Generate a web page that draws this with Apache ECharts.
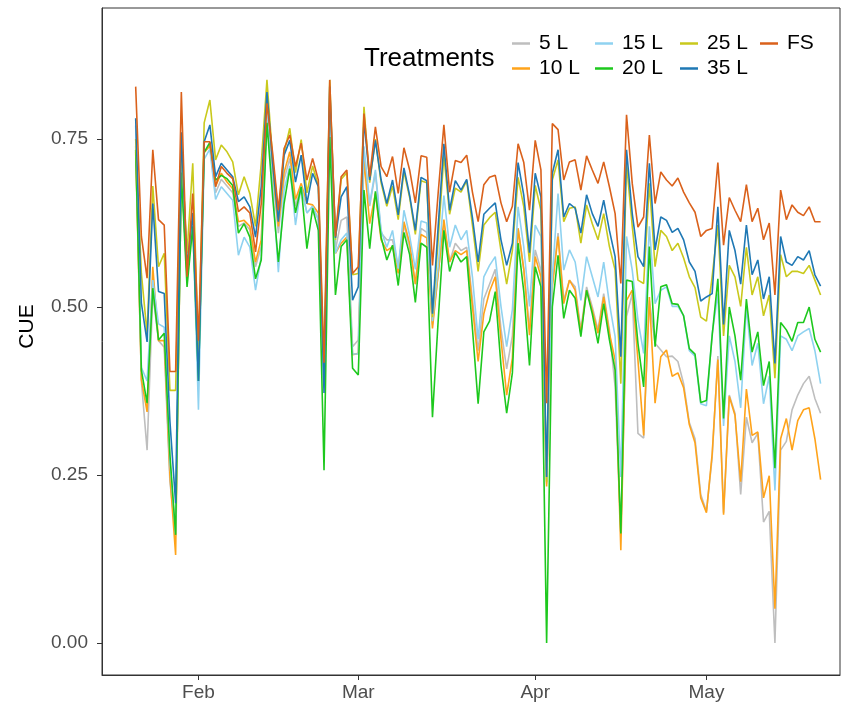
<!DOCTYPE html>
<html>
<head>
<meta charset="utf-8">
<script src="https://cdn.jsdelivr.net/npm/echarts@6/dist/echarts.min.js"></script>
<style>
html,body{margin:0;padding:0;background:#fff;}
#c{width:845px;height:710px;}
</style>
</head>
<body>
<div id="c"></div>
<script>
// ---- data (daily, first date 2017-01-21) ----
const firstDate = '2017-01-21';
const seriesNames = ['5 L', '10 L', '15 L', '20 L', '25 L', '35 L', 'FS'];
const monthTicks = ['2017-02-01', '2017-03-01', '2017-04-01', '2017-05-01'];
const monthLabels = ['Feb', 'Mar', 'Apr', 'May'];
const yTicks = [0, 0.25, 0.5, 0.75];

const s5 = [0.740,0.390,0.287,0.520,0.450,0.440,0.240,0.160,0.700,0.550,0.630,
0.400,0.730,0.740,0.670,0.690,0.680,0.670,0.620,0.625,0.615,
0.560,0.590,0.790,0.700,0.610,0.690,0.721,0.650,0.680,0.640,
0.650,0.630,0.400,0.800,0.585,0.629,0.634,0.441,0.451,0.730,
0.650,0.700,0.610,0.600,0.600,0.560,0.622,0.589,0.534,0.617,
0.611,0.474,0.550,0.622,0.567,0.595,0.584,0.589,0.512,0.435,
0.512,0.534,0.556,0.468,0.408,0.457,0.617,0.556,0.468,0.585,
0.555,0.237,0.535,0.610,0.510,0.540,0.530,0.466,0.530,0.500,
0.466,0.520,0.466,0.381,0.163,0.486,0.520,0.312,0.305,0.510,
0.446,0.436,0.426,0.427,0.419,0.386,0.328,0.304,0.221,0.196,
0.276,0.427,0.194,0.369,0.342,0.221,0.336,0.298,0.312,0.180,
0.196,0.000,0.287,0.300,0.347,0.369,0.386,0.397,0.364,0.342];

const s10 = [0.730,0.392,0.344,0.560,0.450,0.450,0.250,0.131,0.710,0.545,0.630,
0.400,0.730,0.740,0.680,0.699,0.686,0.676,0.627,0.629,0.620,
0.567,0.600,0.790,0.700,0.620,0.700,0.731,0.660,0.684,0.654,
0.652,0.640,0.400,0.800,0.580,0.595,0.604,0.429,0.431,0.720,
0.624,0.669,0.600,0.584,0.590,0.550,0.627,0.595,0.534,0.608,
0.603,0.468,0.550,0.630,0.567,0.584,0.578,0.584,0.501,0.419,
0.490,0.523,0.545,0.452,0.369,0.424,0.617,0.556,0.458,0.575,
0.545,0.233,0.530,0.605,0.505,0.540,0.525,0.461,0.525,0.495,
0.461,0.515,0.461,0.421,0.138,0.510,0.525,0.421,0.309,0.515,
0.357,0.426,0.436,0.397,0.402,0.380,0.325,0.298,0.216,0.194,
0.281,0.422,0.191,0.367,0.339,0.240,0.378,0.309,0.314,0.216,
0.249,0.051,0.304,0.334,0.287,0.331,0.347,0.350,0.304,0.243];

const s15 = [0.770,0.410,0.390,0.540,0.475,0.470,0.270,0.163,0.710,0.556,0.630,
0.347,0.720,0.735,0.660,0.679,0.669,0.659,0.577,0.604,0.589,
0.525,0.575,0.790,0.680,0.552,0.674,0.710,0.622,0.680,0.640,
0.650,0.630,0.380,0.800,0.580,0.600,0.610,0.430,0.430,0.739,
0.654,0.704,0.614,0.589,0.614,0.557,0.644,0.606,0.556,0.628,
0.625,0.479,0.560,0.666,0.589,0.622,0.600,0.614,0.545,0.452,
0.545,0.562,0.575,0.501,0.441,0.496,0.649,0.589,0.501,0.622,
0.605,0.243,0.545,0.669,0.555,0.585,0.567,0.510,0.575,0.545,
0.515,0.567,0.505,0.456,0.247,0.605,0.555,0.481,0.431,0.620,
0.505,0.525,0.530,0.501,0.501,0.487,0.435,0.427,0.356,0.353,
0.460,0.520,0.323,0.457,0.419,0.350,0.501,0.413,0.446,0.356,
0.397,0.227,0.457,0.452,0.435,0.457,0.463,0.468,0.435,0.386];

const s20 = [0.734,0.406,0.357,0.528,0.451,0.461,0.280,0.161,0.700,0.530,0.620,
0.390,0.730,0.745,0.689,0.696,0.691,0.681,0.610,0.624,0.604,
0.542,0.570,0.774,0.664,0.567,0.654,0.706,0.640,0.679,0.587,
0.647,0.614,0.257,0.753,0.518,0.590,0.600,0.409,0.399,0.674,
0.587,0.672,0.604,0.570,0.592,0.532,0.611,0.578,0.507,0.595,
0.589,0.336,0.480,0.614,0.553,0.581,0.567,0.575,0.468,0.356,
0.463,0.479,0.523,0.413,0.342,0.402,0.595,0.523,0.413,0.560,
0.530,0.000,0.500,0.577,0.483,0.525,0.513,0.456,0.525,0.490,
0.446,0.505,0.451,0.406,0.163,0.540,0.538,0.446,0.381,0.590,
0.441,0.530,0.533,0.505,0.504,0.487,0.438,0.430,0.358,0.361,
0.457,0.542,0.334,0.500,0.457,0.391,0.512,0.433,0.463,0.383,
0.419,0.260,0.477,0.466,0.449,0.477,0.477,0.500,0.452,0.433];

const s25 = [0.750,0.550,0.460,0.680,0.560,0.580,0.376,0.376,0.740,0.580,0.714,
0.430,0.774,0.808,0.719,0.741,0.731,0.716,0.667,0.694,0.669,
0.620,0.714,0.838,0.720,0.640,0.730,0.766,0.700,0.749,0.670,
0.710,0.680,0.400,0.838,0.600,0.690,0.700,0.548,0.550,0.798,
0.685,0.750,0.685,0.650,0.680,0.630,0.702,0.663,0.608,0.688,
0.685,0.485,0.600,0.726,0.638,0.677,0.671,0.688,0.622,0.553,
0.622,0.633,0.641,0.584,0.534,0.584,0.693,0.649,0.567,0.681,
0.644,0.240,0.689,0.719,0.627,0.647,0.649,0.595,0.652,0.624,
0.600,0.639,0.590,0.555,0.386,0.714,0.620,0.540,0.535,0.684,
0.560,0.614,0.605,0.584,0.595,0.573,0.545,0.529,0.485,0.479,
0.545,0.622,0.457,0.562,0.545,0.501,0.589,0.518,0.545,0.487,
0.518,0.394,0.578,0.545,0.553,0.553,0.550,0.562,0.540,0.518];

const s35 = [0.781,0.506,0.448,0.654,0.523,0.520,0.330,0.208,0.760,0.560,0.640,
0.390,0.746,0.771,0.694,0.714,0.704,0.694,0.657,0.664,0.649,
0.604,0.679,0.820,0.714,0.627,0.726,0.748,0.686,0.726,0.654,
0.699,0.679,0.372,0.828,0.603,0.664,0.679,0.510,0.530,0.778,
0.689,0.748,0.689,0.654,0.689,0.637,0.707,0.666,0.614,0.693,
0.688,0.490,0.620,0.743,0.644,0.688,0.674,0.690,0.633,0.567,
0.638,0.647,0.655,0.600,0.562,0.595,0.715,0.666,0.581,0.699,
0.664,0.247,0.699,0.734,0.634,0.654,0.647,0.610,0.667,0.639,
0.620,0.659,0.614,0.575,0.426,0.734,0.639,0.575,0.560,0.714,
0.585,0.634,0.629,0.611,0.617,0.600,0.567,0.553,0.509,0.515,
0.520,0.649,0.474,0.614,0.584,0.534,0.622,0.548,0.570,0.512,
0.545,0.416,0.605,0.567,0.562,0.575,0.570,0.584,0.548,0.531];

const sFS = [0.828,0.605,0.543,0.734,0.630,0.622,0.404,0.404,0.820,0.545,0.669,
0.450,0.746,0.746,0.679,0.709,0.699,0.691,0.642,0.649,0.640,
0.582,0.654,0.803,0.729,0.644,0.736,0.756,0.709,0.744,0.689,
0.721,0.689,0.417,0.838,0.605,0.694,0.704,0.550,0.560,0.788,
0.694,0.768,0.709,0.694,0.724,0.669,0.737,0.704,0.655,0.725,
0.723,0.562,0.670,0.771,0.671,0.718,0.715,0.726,0.671,0.627,
0.682,0.693,0.696,0.655,0.627,0.650,0.743,0.715,0.644,0.748,
0.704,0.357,0.773,0.764,0.689,0.716,0.719,0.674,0.725,0.704,
0.684,0.716,0.679,0.639,0.535,0.786,0.684,0.619,0.634,0.756,
0.654,0.701,0.689,0.680,0.692,0.671,0.655,0.641,0.605,0.614,
0.617,0.715,0.592,0.663,0.644,0.627,0.682,0.627,0.647,0.600,
0.625,0.518,0.674,0.630,0.652,0.641,0.636,0.649,0.627,0.627];

const colors = ['#BEBEBE', '#FFA31A', '#8FD2F0', '#1DC81D', '#C9C91C', '#1F78B4', '#DA611B'];

// ---- build ----
const DAY = 86400000;
const t0 = Date.parse(monthTicks[0] + 'T00:00:00Z');
const startOff = (Date.parse(firstDate + 'T00:00:00Z') - t0) / DAY;
const tickDays = monthTicks.map(d => (Date.parse(d + 'T00:00:00Z') - t0) / DAY);
const allValues = [s5, s10, s15, s20, s25, s35, sFS];
const FONT = 'Liberation Sans, Arial, sans-serif';

const series = allValues.map((vals, k) => ({
  name: seriesNames[k],
  type: 'line',
  data: vals.map((v, i) => [startOff + i, v]),
  showSymbol: false,
  symbol: 'none',
  lineStyle: { width: 1.6, color: colors[k] },
  itemStyle: { color: colors[k] },
  z: 2 + k
}));

const legendCols = [[0, 1], [2, 3], [4, 5], [6]];
const legendLeft = [512, 595, 680, 760];
const legends = legendCols.map((col, j) => ({
  orient: 'vertical',
  left: legendLeft[j],
  top: 31,
  padding: 0,
  itemGap: 0,
  itemWidth: 18,
  itemHeight: 2.5,
  icon: 'rect',
  selectedMode: false,
  data: col.map(k => seriesNames[k]),
  textStyle: { fontSize: 21, lineHeight: 25, color: '#000', fontFamily: FONT, padding: [0, 0, 0, 4] }
}));

const chart = echarts.init(document.getElementById('c'), null, { renderer: 'canvas' });
chart.setOption({
  animation: false,
  backgroundColor: '#fff',
  color: colors,
  title: {
    text: 'Treatments',
    left: 364,
    top: 46,
    padding: 0,
    textStyle: { fontSize: 26, fontWeight: 'normal', color: '#000', fontFamily: FONT }
  },
  legend: legends,
  grid: { left: 102, right: 5, top: 8, bottom: 35, show: true, borderColor: '#333', borderWidth: 1, backgroundColor: 'transparent' },
  xAxis: {
    type: 'value',
    min: -16.9,
    max: 112.4,
    splitLine: { show: false },
    axisLine: { show: true, onZero: false, lineStyle: { color: '#333', width: 1 } },
    axisTick: { show: true, customValues: tickDays, length: 5, lineStyle: { color: '#333' } },
    axisLabel: {
      customValues: tickDays,
      formatter: v => monthLabels[tickDays.indexOf(v)] || '',
      fontSize: 19, color: '#4D4D4D', margin: 8,
      fontFamily: FONT
    }
  },
  yAxis: {
    type: 'value',
    min: -0.0476,
    max: 0.945,
    name: 'CUE',
    nameLocation: 'middle',
    nameRotate: 90,
    nameGap: 64,
    nameTextStyle: { fontSize: 21, color: '#000', fontFamily: FONT, padding: [0, 0, 0, 30] },
    splitLine: { show: false },
    axisLine: { show: true, onZero: false, lineStyle: { color: '#333', width: 1 } },
    axisTick: { show: true, customValues: yTicks, length: 5, lineStyle: { color: '#333' } },
    axisLabel: {
      customValues: yTicks,
      formatter: v => v.toFixed(2),
      fontSize: 19, color: '#4D4D4D', margin: 14,
      fontFamily: FONT
    }
  },
  series: series
});
</script>
</body>
</html>
